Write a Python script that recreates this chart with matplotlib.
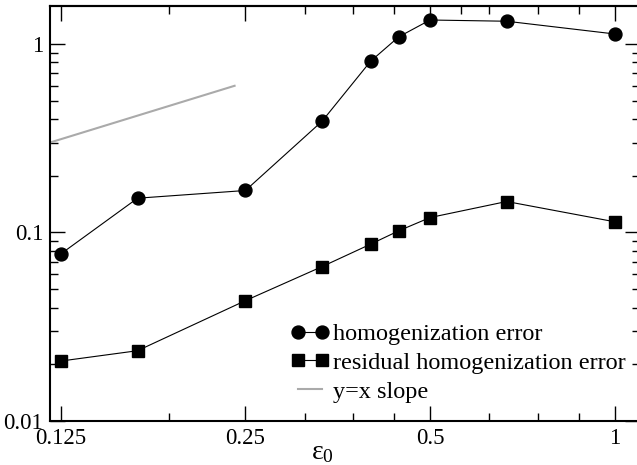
import matplotlib
matplotlib.use("Agg")
import matplotlib.pyplot as plt
from matplotlib.ticker import FixedLocator, NullFormatter, LogLocator

plt.rcParams['font.family'] = ['Liberation Serif', 'DejaVu Serif']
plt.rcParams['mathtext.fontset'] = 'custom'
plt.rcParams['mathtext.rm'] = 'Liberation Serif'
plt.rcParams['mathtext.it'] = 'Liberation Serif:italic'

# data
eps0 = [0.125, 0.1667, 0.25, 0.3333, 0.4, 0.4444, 0.5, 0.6667, 1.0]
hom_err = [0.077, 0.152, 0.167, 0.389, 0.81, 1.09, 1.34, 1.32, 1.13]
res_err = [0.0208, 0.0236, 0.0435, 0.0659, 0.0867, 0.102, 0.120, 0.146, 0.114]
slope_x = [0.12, 0.24]
slope_y = [0.30, 0.60]

x_major = [0.125, 0.25, 0.5, 1]
x_major_labels = ['0.125', '0.25', '0.5', '1']
x_minor = [0.1875, 0.3125, 0.375, 0.4375, 0.625, 0.75, 0.875]
x_minor_top = [0.1875, 0.3125, 0.375, 0.4375, 0.5625, 0.625, 0.75, 0.875]
y_major = [0.01, 0.1, 1]
y_major_labels = ['0.01', '0.1', '1']

W, H = 637, 465
fig = plt.figure(figsize=(W / 100, H / 100), dpi=100)
ax = fig.add_axes([50 / W, 44 / H, 590 / W, (421 - 6) / H])
ax.set_xscale('log')
ax.set_yscale('log')
ax.set_xlim(0.12, 1.1)
ax.set_ylim(0.01, 1.59)

ax.plot(slope_x, slope_y, color='#aaaaaa', lw=1.5, label='y=x slope', zorder=2)
ax.plot(eps0, hom_err, color='black', lw=0.8, marker='o', markersize=9.3,
        label='homogenization error', zorder=3)
ax.plot(eps0, res_err, color='black', lw=0.8, marker='s', markersize=8.5,
        label='residual homogenization error', zorder=3)

ax.xaxis.set_major_locator(FixedLocator(x_major))
ax.set_xticklabels(x_major_labels)
ax.xaxis.set_minor_locator(FixedLocator(x_minor))
ax.xaxis.set_minor_formatter(NullFormatter())
ax.yaxis.set_major_locator(FixedLocator(y_major))
ax.set_yticklabels(y_major_labels)
ax.yaxis.set_minor_locator(LogLocator(base=10, subs=range(2, 10)))
ax.yaxis.set_minor_formatter(NullFormatter())

ax.tick_params(which='major', direction='in', length=11, width=1.0,
               labelsize=16.5, pad=5, top=False, right=True)
ax.tick_params(which='minor', direction='in', length=5.5, width=1.0,
               top=False, right=True)

top = ax.secondary_xaxis('top')
top.set_xscale('log')
top.xaxis.set_major_locator(FixedLocator(x_major))
top.xaxis.set_minor_locator(FixedLocator(x_minor_top))
top.xaxis.set_major_formatter(NullFormatter())
top.xaxis.set_minor_formatter(NullFormatter())
top.tick_params(which='major', direction='in', length=11, width=1.0)
top.tick_params(which='minor', direction='in', length=5.5, width=1.0)
top.spines['top'].set_linewidth(1.5)

for s in ax.spines.values():
    s.set_linewidth(1.5)

ax.set_xlabel('ε$_0$', fontsize=20)
ax.xaxis.set_label_coords((322 - 50) / 590, -0.045)

handles, labels = ax.get_legend_handles_labels()
order = [1, 2, 0]
leg = ax.legend([handles[i] for i in order], [labels[i] for i in order],
                loc='upper left', bbox_to_anchor=(291 / W, (H - 323) / H),
                bbox_transform=fig.transFigure, frameon=False, fontsize=17.5,
                numpoints=2, handlelength=1.58, handletextpad=0.15,
                borderpad=0, borderaxespad=0, labelspacing=0.28)

fig.savefig('out.png', dpi=100)
